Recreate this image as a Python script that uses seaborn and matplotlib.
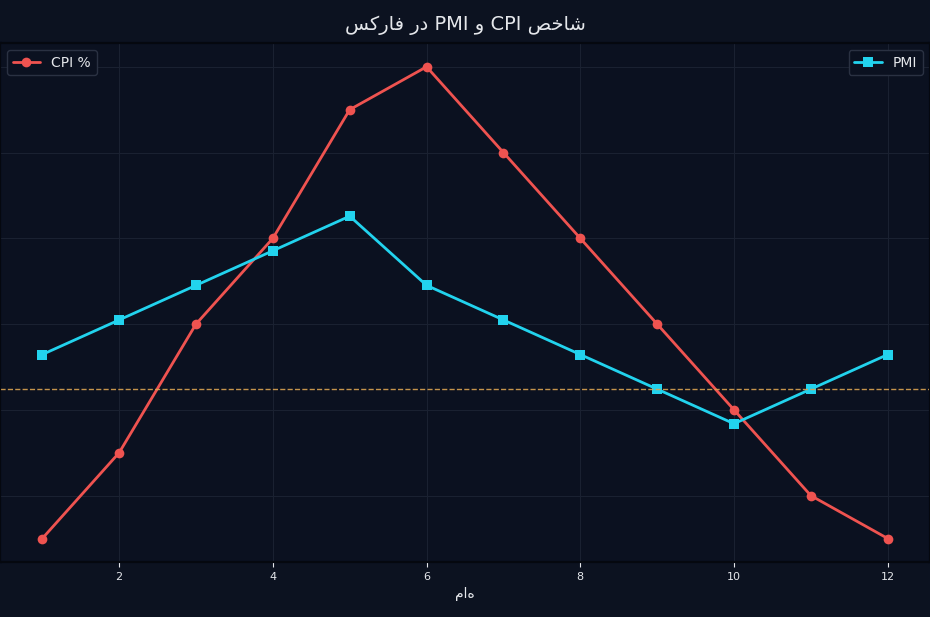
import seaborn as sns
from matplotlib import pyplot as plt
import pandas as pd

# monthly values
months = [1, 2, 3, 4, 5, 6, 7, 8, 9, 10, 11, 12]
cpi = [1.75, 2.25, 3.0, 3.5, 4.25, 4.5, 4.0, 3.5, 3.0, 2.5, 2.0, 1.75]
pmi = [50.5, 51.0, 51.5, 52.0, 52.5, 51.5, 51.0, 50.5, 50.0, 49.5, 50.0, 50.5]
pmi_limits = (47.5, 55.0)

# title in visual (LTR) order, pre-shaped
title = ("\uFEB2\uFB90\uFEAD\uFE8E\uFED3 \uFEAD\uFEA9 PMI \uFEED CPI "
         "\uFEBA\uFEA7\uFE8E\uFEB7")
xlabel = "ماه"

df = pd.DataFrame({"month": months, "cpi": cpi, "pmi": pmi})

sns.set_style("dark")
plt.rcParams["font.family"] = ["DejaVu Sans"]

fig_bg = "#0c1220"
ax_bg = "#0b1120"
grid_c = "#1a2131"
text_c = "#e5e7eb"

fig = plt.figure(figsize=(9.3, 6.17), dpi=100, facecolor=fig_bg)
ax = fig.add_axes([0.0, 0.089, 1.0, 0.841])
ax.set_facecolor(ax_bg)

sns.lineplot(data=df, x="month", y="cpi", ax=ax, color="#ef5350", marker="o",
             markersize=7, markeredgewidth=0, linewidth=2, label="CPI %")
ax.grid(True, color=grid_c, linewidth=0.8)
ax.set_axisbelow(True)

ax2 = ax.twinx()
sns.lineplot(data=df, x="month", y="pmi", ax=ax2, color="#22d3ee", marker="s",
             markersize=7, markeredgewidth=0, linewidth=2, label="PMI")
ax2.axhline(50, color="#dba352", linestyle="--", linewidth=1, alpha=0.9)
ax2.set_ylim(*pmi_limits)

for a in (ax, ax2):
    a.set_ylabel("")
    a.tick_params(axis="y", left=False, right=False, labelleft=False, labelright=False)
    for s in a.spines.values():
        s.set_color("#05080f")
        s.set_linewidth(1.5)

ax.tick_params(axis="x", colors=text_c, labelsize=8, length=3.5, width=0.8, bottom=True)
ax.set_xlabel(xlabel, color=text_c, fontsize=10)
ax.set_xlim(0.45, 12.55)

leg1 = ax.legend(loc="upper left", facecolor=ax_bg, edgecolor="#2a3142",
                 labelcolor=text_c, fontsize=10, framealpha=1)
leg2 = ax2.legend(loc="upper right", facecolor=ax_bg, edgecolor="#2a3142",
                  labelcolor=text_c, fontsize=10, framealpha=1)

fig.suptitle(title, color=text_c, fontsize=14, y=0.975)

plt.savefig("out.png", facecolor=fig_bg)
